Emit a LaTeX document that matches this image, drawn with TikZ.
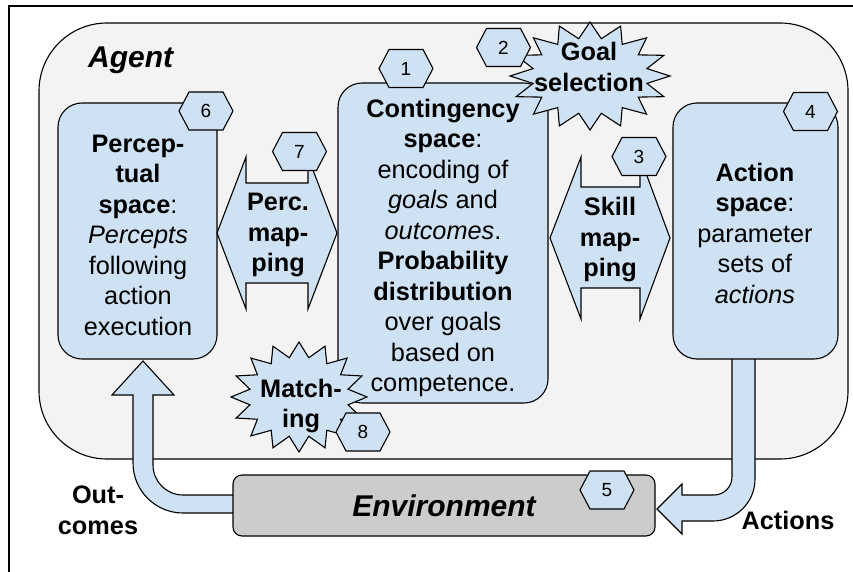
\documentclass[tikz,border=0pt]{standalone}
\usepackage{fontspec}
\setmainfont{Liberation Sans}
\definecolor{lblue}{HTML}{CFE2F3}
\definecolor{agentbg}{HTML}{F3F3F3}
\definecolor{envgray}{HTML}{CCCCCC}
\newcommand{\hexnum}[4]{%
  \draw[shp] (#2-27,#3) -- (#2-17,#3-19) -- (#2+17,#3-19) -- (#2+27,#3) -- (#2+17,#3+19) -- (#2-17,#3+19) -- cycle;
  \node[numtxt] (#1) at (#2,#3) {#4};}
\newcommand{\starpoly}[6]{%
  \draw[shp] ({#1+#3},#2) \foreach \i in {1,...,31}{ -- ({#1+(mod(\i,2)==0 ? #3 : #5)*cos(\i*11.25)},{#2+(mod(\i,2)==0 ? #4 : #6)*sin(\i*11.25)}) } -- cycle;}
\begin{document}
\begin{tikzpicture}[x=1pt,y=-1pt,
  shp/.style={draw=black, line width=1.1pt, fill=lblue},
  boxst/.style={shp, rounded corners=24pt, inner sep=0pt},
  body/.style={font=\fontsize{25.3}{30.5}\selectfont, align=center, inner sep=0pt},
  bbody/.style={body, font=\fontsize{25.3}{30.5}\selectfont\bfseries},
  big/.style={font=\fontsize{30}{36}\selectfont\bfseries\itshape, inner sep=0pt},
  numtxt/.style={font=\fontsize{19}{22}\selectfont, inner sep=0pt}]
\useasboundingbox (0,0) rectangle (853,572);
\fill[white] (0,0) rectangle (853,572);
\draw[line width=1.5pt] (9,572) -- (9,6) -- (853,6);
% agent
\node[draw, line width=1.1pt, fill=agentbg, rounded corners=68pt, minimum width=809pt, minimum height=436pt, inner sep=0pt] (agent) at (443.5,241) {};
\node[big, anchor=west] (agentlbl) at (88,60) {Agent};
% outcomes arrow
\draw[shp] (240,495) -- (183,495) .. controls (166.4,495) and (153,481.6) .. (153,465) -- (153,395) -- (174,395) -- (143,361) -- (112,395) -- (133,395) -- (133,463) .. controls (133,490.6) and (155.4,513) .. (183,513) -- (240,513) -- cycle;
% actions arrow
\draw[shp] (732,355) -- (732,477) .. controls (732,486.9) and (723.9,495) .. (714,495) -- (682,495) -- (682,484) -- (657,509) -- (682,534) -- (682,521) -- (713,521) .. controls (736.2,521) and (755,502.2) .. (755,479) -- (755,355) -- cycle;
% boxes
\node[boxst, minimum width=159pt, minimum height=256pt] (percbox) at (137.5,231) {};
\node[body] (perctext) at (138,235)
  {\textbf{Percep-}\\\textbf{tual}\\\textbf{space}:\\\textit{Percepts}\\following\\action\\execution};
\node[boxst, minimum width=210pt, minimum height=320pt] (contbox) at (443,243) {};
\node[body] (conttext) at (443,248)
  {\textbf{Contingency}\\\textbf{space}:\\encoding of\\\textit{goals} and\\\textit{outcomes}.\\\textbf{Probability}\\\textbf{distribution}\\over goals\\based on\\competence.};
\node[boxst, minimum width=165pt, minimum height=256pt] (actbox) at (755.5,231) {};
\node[body] (acttext) at (755,233)
  {\textbf{Action}\\\textbf{space}:\\parameter\\sets of\\\textit{actions}};
% environment
\node[draw, line width=1.1pt, fill=envgray, rounded corners=9pt, minimum width=422pt, minimum height=61pt, big] (env) at (444,505.5) {Environment};
% mappings
\draw[shp] (217,233) -- (246,157) -- (246,183) -- (308,183) -- (308,157) -- (337,233) -- (308,309) -- (308,283) -- (246,283) -- (246,309) -- cycle;
\node[bbody] (percmap) at (278,235) {Perc.\\map-\\ping};
\draw[shp] (550,238) -- (581,157) -- (581,187) -- (640,187) -- (640,157) -- (670,238) -- (640,319) -- (640,288) -- (581,288) -- (581,319) -- cycle;
\node[bbody] (skillmap) at (610,240) {Skill\\map-\\ping};
% stars
\starpoly{590}{76}{80}{54}{58}{38}
\node[bbody] (goalsel) at (589,67) {Goal\\selection};
\starpoly{299}{397}{68}{55}{50}{40}
\node[bbody] (matching) at (301,406) {Match-\\ing};
% labels
\node[bbody] (outcomes) at (98,510.5) {Out-\\comes};
\node[bbody] (actions) at (788,520.5) {Actions};
% numbers
\hexnum{h1}{406}{68.5}{1}
\hexnum{h2}{503.5}{47.5}{2}
\hexnum{h3}{639}{156.5}{3}
\hexnum{h4}{810.5}{111.5}{4}
\hexnum{h5}{607}{490}{5}
\hexnum{h6}{206}{111}{6}
\hexnum{h7}{299.5}{151.5}{7}
\hexnum{h8}{363}{432}{8}
\end{tikzpicture}
\end{document}
